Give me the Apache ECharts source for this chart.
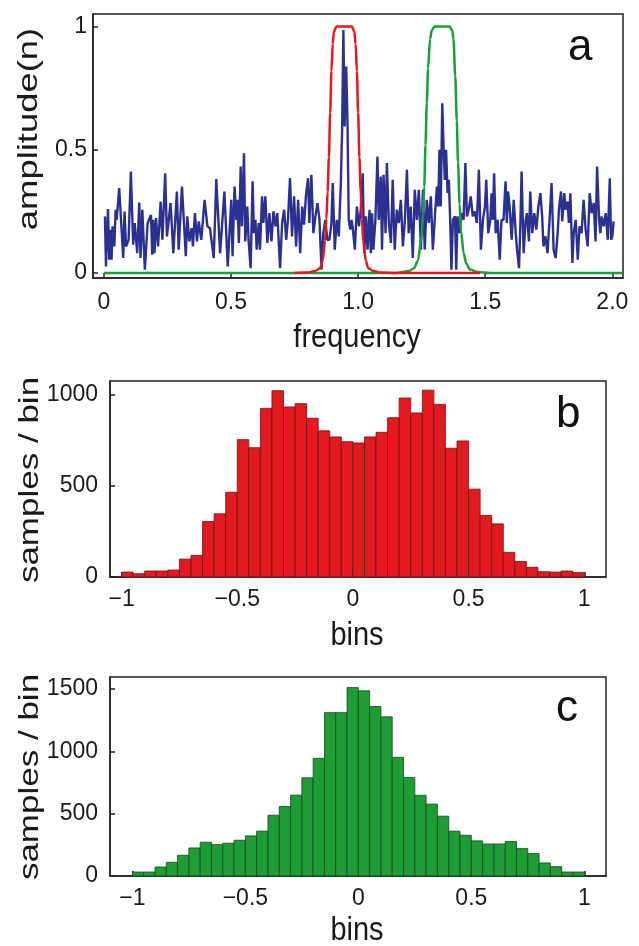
<!DOCTYPE html>
<html>
<head>
<meta charset="utf-8">
<script src="https://cdn.jsdelivr.net/npm/echarts@6/dist/echarts.min.js"></script>
<style>
html,body{margin:0;padding:0;background:#fff;}
#chart{width:639px;height:946px;}
</style>
</head>
<body>
<div id="chart"></div>
<script>
// ---------- Panel a: spectrum (blue) and two filter windows ----------
const freqBlue = [0.004,0.008,0.016,0.021,0.025,0.030,0.034,0.041,0.046,0.050,0.060,0.076,0.081,0.087,0.097,0.106,0.115,0.121,0.131,0.139,0.144,0.151,0.161,0.172,0.178,0.185,0.190,0.194,0.199,0.205,0.213,0.223,0.230,0.241,0.248,0.262,0.273,0.287,0.294,0.307,0.322,0.328,0.336,0.345,0.350,0.358,0.366,0.373,0.383,0.396,0.407,0.417,0.432,0.442,0.457,0.474,0.487,0.501,
0.506,0.514,0.521,0.525,0.531,0.538,0.543,0.551,0.556,0.564,0.569,0.577,0.585,0.590,0.596,0.601,0.609,0.614,0.622,0.627,0.635,0.643,0.651,0.659,0.667,0.675,0.682,0.693,0.701,0.709,0.717,0.724,0.732,0.740,0.748,0.756,0.764,0.772,0.780,0.787,0.795,0.803,0.808,0.816,0.824,0.832,0.840,0.848,0.856,0.863,0.871,0.879,0.887,0.895,0.900,0.908,0.916,0.924,0.932,0.937,0.942,0.947,0.953,0.958,0.963,0.969,0.974,0.979,0.987,0.995,1.003,1.010,
1.018,1.024,1.031,1.037,1.045,1.050,1.055,1.060,1.068,1.076,1.081,1.089,1.094,1.100,1.108,1.113,1.121,1.129,1.136,1.144,1.152,1.160,1.168,1.176,1.184,1.192,1.199,1.207,1.215,1.223,1.231,1.239,1.247,1.255,1.262,1.270,1.278,1.286,1.294,1.302,1.310,1.315,1.320,1.325,1.331,1.336,1.341,1.346,1.352,1.357,1.362,1.367,1.373,1.381,1.386,1.391,1.399,1.407,1.415,1.422,1.428,1.435,1.443,1.451,1.459,1.467,1.475,1.483,1.491,1.499,1.504,1.512,1.520,
1.525,1.530,1.535,1.541,1.549,1.557,1.564,1.572,1.580,1.585,1.590,1.596,1.604,1.612,1.620,1.625,1.633,1.638,1.643,1.651,1.659,1.664,1.672,1.677,1.685,1.693,1.701,1.709,1.717,1.724,1.729,1.737,1.745,1.753,1.761,1.769,1.777,1.785,1.790,1.798,1.803,1.811,1.816,1.824,1.829,1.835,1.843,1.848,1.856,1.864,1.871,1.879,1.887,1.895,1.903,1.911,1.919,1.927,1.934,1.940,1.948,1.953,1.958,1.966,1.974,1.982,1.990,1.995,2.000,2.005];
const ampBlue = [0.23,0.027,0.26,0.054,0.176,0.054,0.19,0.108,0.257,0.216,0.345,0.061,0.25,0.108,0.135,0.412,0.115,0.203,0.081,0.286,0.061,0.257,0.014,0.203,0.21,0.236,0.074,0.216,0.081,0.223,0.108,0.29,0.135,0.405,0.149,0.284,0.081,0.331,0.095,0.351,0.068,0.23,0.128,0.182,0.108,0.243,0.128,0.21,0.135,0.297,0.19,0.182,0.061,0.381,0.081,0.331,0.027,0.297,
0.068,0.351,0.216,0.297,0.122,0.432,0.19,0.486,0.128,0.27,0.135,0.02,0.372,0.162,0.216,0.095,0.203,0.095,0.311,0.203,0.311,0.122,0.243,0.128,0.25,0.19,0.243,0.02,0.203,0.257,0.135,0.216,0.385,0.149,0.311,0.108,0.297,0.081,0.27,0.196,0.318,0.385,0.203,0.399,0.162,0.23,0.284,0.216,0.014,0.162,0.216,0.135,0.135,0.203,0.365,0.095,0.216,0.149,0.365,0.581,0.986,0.595,0.838,0.622,0.216,0.176,0.216,0.182,0.095,0.27,0.19,0.25,
0.405,0.081,0.23,0.095,0.257,0.081,0.243,0.095,0.216,0.473,0.216,0.392,0.095,0.399,0.162,0.446,0.203,0.122,0.378,0.095,0.257,0.203,0.297,0.108,0.216,0.419,0.162,0.27,0.061,0.338,0.216,0.338,0.095,0.338,0.095,0.297,0.203,0.311,0.095,0.23,0.351,0.27,0.5,0.27,0.689,0.514,0.378,0.5,0.324,0.378,0.216,0.014,0.216,0.23,0.014,0.23,0.162,0.243,0.216,0.446,0.23,0.257,0.311,0.23,0.25,0.203,0.419,0.095,0.216,0.27,0.378,0.162,0.216,
0.324,0.216,0.405,0.162,0.216,0.054,0.216,0.216,0.372,0.203,0.331,0.27,0.135,0.297,0.162,0.095,0.02,0.19,0.412,0.081,0.216,0.243,0.128,0.331,0.162,0.243,0.176,0.27,0.324,0.23,0.108,0.149,0.081,0.216,0.365,0.095,0.061,0.162,0.257,0.331,0.21,0.324,0.257,0.29,0.203,0.324,0.041,0.162,0.216,0.054,0.19,0.162,0.297,0.176,0.108,0.324,0.243,0.284,0.128,0.432,0.216,0.162,0.23,0.19,0.243,0.135,0.385,0.135,0.149,0.21];

const freqRed = [0.75,0.80,0.83,0.85,0.86,0.87,0.875,0.88,0.885,0.89,0.895,0.90,0.905,0.915,0.975,0.985,0.99,0.995,1.00,1.005,1.01,1.015,1.02,1.03,1.04,1.06,1.09,1.15,1.48];
const ampRed  = [0,0.002,0.008,0.02,0.05,0.13,0.22,0.33,0.47,0.65,0.82,0.93,0.98,1.0,1.0,0.98,0.93,0.82,0.65,0.47,0.33,0.22,0.13,0.05,0.02,0.008,0.002,0,0];

const freqGreen = [0,1.15,1.20,1.22,1.235,1.25,1.255,1.26,1.265,1.27,1.275,1.283,1.29,1.30,1.36,1.37,1.375,1.382,1.388,1.393,1.399,1.405,1.415,1.425,1.44,1.47,1.52,2.04];
const ampGreen  = [0,0,0.008,0.02,0.05,0.15,0.24,0.35,0.52,0.69,0.83,0.95,0.985,1.0,1.0,0.985,0.95,0.8,0.62,0.45,0.28,0.17,0.08,0.04,0.014,0.004,0,0];

const xTicksA = [0,0.5,1.0,1.5,2.0];
const xLabelsA = ['0','0.5','1.0','1.5','2.0'];
const yTicksA = [0,0.5,1];
const yLabelsA = ['0','0.5','1'];

// ---------- Panels b and c: histograms ----------
const binWidth = 0.05;
const binStarts = [-1.00,-0.95,-0.90,-0.85,-0.80,-0.75,-0.70,-0.65,-0.60,-0.55,-0.50,-0.45,-0.40,-0.35,-0.30,-0.25,-0.20,-0.15,-0.10,-0.05,
                   0.00,0.05,0.10,0.15,0.20,0.25,0.30,0.35,0.40,0.45,0.50,0.55,0.60,0.65,0.70,0.75,0.80,0.85,0.90,0.95];
const countsB = [27,18,33,33,38,98,118,304,346,464,752,708,923,1020,931,949,869,800,767,741,
                 734,767,792,872,980,898,1023,945,705,745,481,337,291,135,85,53,29,27,33,24];
const countsC = [32,32,72,110,166,225,271,252,263,287,322,360,488,558,649,788,944,1311,1311,1512,
                 1486,1360,1277,952,791,647,577,480,360,327,282,257,257,277,220,180,105,75,32,32];

const xTicksH = [-1,-0.5,0,0.5,1];
const xLabelsH = ['\u22121','\u22120.5','0','0.5','1'];
const yTicksB = [0,500,1000];
const yLabelsB = ['0','500','1000'];
const yTicksC = [0,500,1000,1500];
const yLabelsC = ['0','500','1000','1500'];

const FONT = 'Liberation Sans, Arial, Helvetica, sans-serif';
const TXT = '#1a1a1a';

function labelFmt(ticks, labels){
  return function(v){
    for (let i=0;i<ticks.length;i++){ if (Math.abs(ticks[i]-v) < 1e-6) return labels[i]; }
    return '';
  };
}
function axisCommon(ticks, labels, margin){
  return {
    type:'value',
    splitLine:{show:false},
    axisLine:{show:true, onZero:false, lineStyle:{color:'#222', width:1.5}},
    axisTick:{show:true, inside:true, length:5, customValues:ticks, lineStyle:{color:'#222', width:1.5}},
    axisLabel:{customValues:ticks, formatter:labelFmt(ticks,labels), fontSize:23, color:TXT, fontFamily:FONT, margin:margin}
  };
}
function zip(a,b){ return a.map((v,i)=>[v,b[i]]); }

function histRender(fill, stroke){
  return function(params, api){
    const x0 = api.value(0), h = api.value(1);
    const p0 = api.coord([x0, h]);
    const p1 = api.coord([x0 + binWidth, 0]);
    return {
      type:'rect',
      shape:{x:p0[0], y:p0[1], width:p1[0]-p0[0], height:p1[1]-p0[1]},
      style:{fill:fill, stroke:stroke, lineWidth:0.8}
    };
  };
}

function hName(text, x, y){
  return {type:'text', x:x, y:y, scaleY:1.12, originX:0, originY:0,
          style:{text:text, font:'29px '+FONT, fill:TXT, align:'center', verticalAlign:'middle'}};
}
function vName(text, x, y, sx){
  return {type:'text', x:x, y:y, rotation:Math.PI/2, scaleX:sx,
          style:{text:text, font:'28px '+FONT, fill:TXT, align:'center', verticalAlign:'middle'}};
}

const chart = echarts.init(document.getElementById('chart'), null, {renderer:'canvas'});

const option = {
  animation:false,
  backgroundColor:'#fff',
  grid:[
    {left:93, top:14, width:530, height:264, show:true, borderColor:'#222', borderWidth:1.5, containLabel:false},
    {left:110, top:381, width:496, height:196, show:true, borderColor:'#222', borderWidth:1.5, containLabel:false},
    {left:110, top:677, width:496, height:199, show:true, borderColor:'#222', borderWidth:1.5, containLabel:false}
  ],
  xAxis:[
    Object.assign(axisCommon(xTicksA, xLabelsA, 13), {gridIndex:0, min:-0.043, max:2.042}),
    Object.assign(axisCommon(xTicksH, xLabelsH, 11), {gridIndex:1, min:-1.05, max:1.094}),
    Object.assign(axisCommon(xTicksH, xLabelsH, 11), {gridIndex:2, min:-1.099, max:1.096})
  ],
  yAxis:[
    Object.assign(axisCommon(yTicksA, yLabelsA, 6), {gridIndex:0, min:-0.02, max:1.051}),
    Object.assign(axisCommon(yTicksB, yLabelsB, 12), {gridIndex:1, min:0, max:1073}),
    Object.assign(axisCommon(yTicksC, yLabelsC, 12), {gridIndex:2, min:0, max:1597})
  ],
  series:[
    {type:'line', xAxisIndex:0, yAxisIndex:0, data:zip(freqBlue, ampBlue), showSymbol:false, symbol:'none',
     lineStyle:{color:'#2b3190', width:2.4}, z:2},
    {type:'line', xAxisIndex:0, yAxisIndex:0, data:zip(freqGreen, ampGreen), showSymbol:false, symbol:'none',
     smooth:0.3, smoothMonotone:'x', lineStyle:{color:'#17a03a', width:2.5}, z:3},
    {type:'line', xAxisIndex:0, yAxisIndex:0, data:zip(freqRed, ampRed), showSymbol:false, symbol:'none',
     smooth:0.3, smoothMonotone:'x', lineStyle:{color:'#e8161d', width:2.5}, z:4},
    {type:'custom', xAxisIndex:1, yAxisIndex:1, data:zip(binStarts, countsB), encode:{x:0, y:1},
     renderItem:histRender('#e2191f', '#6e1212'), z:2},
    {type:'custom', xAxisIndex:2, yAxisIndex:2, data:zip(binStarts, countsC), encode:{x:0, y:1},
     renderItem:histRender('#1e9c36', '#0f4d1a'), z:2}
  ],
  graphic:[
    {type:'text', x:568, y:48, style:{text:'a', font:'44px '+FONT, fill:'#111', verticalAlign:'middle', align:'left'}},
    {type:'text', x:556, y:415, style:{text:'b', font:'44px '+FONT, fill:'#111', verticalAlign:'middle', align:'left'}},
    {type:'text', x:556, y:709, style:{text:'c', font:'44px '+FONT, fill:'#111', verticalAlign:'middle', align:'left'}},
    hName('frequency', 357, 338),
    hName('bins', 357, 636),
    hName('bins', 357, 931),
    vName('amplitude(n)', 29, 129, 1.3),
    vName('samples / bin', 30, 480, 1.25),
    vName('samples / bin', 30, 777, 1.25)
  ]
};
chart.setOption(option);
</script>
</body>
</html>
